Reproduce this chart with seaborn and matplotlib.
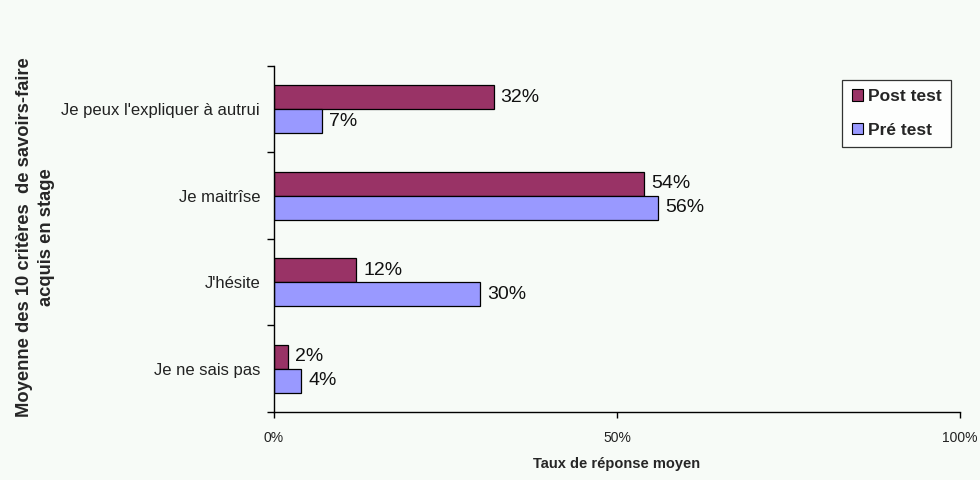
import matplotlib
matplotlib.use("Agg")
import matplotlib.pyplot as plt
import seaborn as sns
import pandas as pd
from matplotlib.ticker import FixedLocator, FuncFormatter

categories = ["Je peux l'expliquer à autrui", "Je maitrîse", "J'hésite", "Je ne sais pas"]
series = ["Post test", "Pré test"]
post_test = [32, 54, 12, 2]
pre_test = [7, 56, 30, 4]
x_ticks = [0, 50, 100]

colors = {"Post test": "#993366", "Pré test": "#9999FF"}
bg = "#f7fbf7"

df = pd.DataFrame({
    "critere": categories * 2,
    "serie": [series[0]] * len(categories) + [series[1]] * len(categories),
    "taux": post_test + pre_test,
})

sns.set_theme(style="white")
plt.rcParams["font.family"] = ["Liberation Sans", "DejaVu Sans"]

fig = plt.figure(figsize=(9.8, 4.8), dpi=100, facecolor=bg)
ax = fig.add_axes([0.2796, 0.1417, 0.70, 0.7208])
ax.set_facecolor(bg)

sns.barplot(data=df, x="taux", y="critere", hue="serie", order=categories,
            hue_order=series, palette=colors, orient="h", width=0.55, gap=0,
            edgecolor="black", linewidth=0.9, saturation=1, ax=ax, legend=True)

for cont in ax.containers:
    ax.bar_label(cont, labels=[f"{v:g}%" for v in cont.datavalues],
                 padding=5, fontsize=14, color="#111111")

ax.set_xlim(0, 100)
ax.set_ylim(3.5, -0.5)
ax.xaxis.set_major_locator(FixedLocator(x_ticks))
ax.xaxis.set_major_formatter(FuncFormatter(lambda v, p: f"{v:g}%"))
ax.tick_params(axis="x", direction="out", length=4, width=1, color="black",
               pad=10, labelsize=10, labelcolor="#222222", bottom=True)
ax.tick_params(axis="y", which="major", length=0, pad=10, labelsize=12,
               labelcolor="#222222")
ax.set_yticks([i + 0.5 for i in range(-1, len(categories))], minor=True)
ax.tick_params(axis="y", which="minor", direction="out", length=5, width=1,
               color="black", left=True)

for side in ["top", "right"]:
    ax.spines[side].set_visible(False)
for side in ["left", "bottom"]:
    ax.spines[side].set_color("black")
    ax.spines[side].set_linewidth(1)

ax.set_xlabel("Taux de réponse moyen", fontsize=10.5, fontweight="bold", labelpad=8)
ax.set_ylabel("")
fig.text(0.036, 0.505, "Moyenne des 10 critères  de savoirs-faire\nacquis en stage",
         rotation=90, ha="center", va="center", fontsize=13.2, fontweight="bold",
         linespacing=1.35)

handles, labels = ax.get_legend_handles_labels()
leg = ax.legend(handles, labels, loc="upper left", bbox_to_anchor=(0.828, 0.96),
                frameon=True, fancybox=False, edgecolor="black", facecolor="white",
                handlelength=0.65, handleheight=0.65, handletextpad=0.3,
                borderpad=0.55, borderaxespad=0, labelspacing=1.05,
                prop={"weight": "bold", "size": 12.5})
leg.get_frame().set_linewidth(0.9)
for h in leg.legend_handles:
    h.set_edgecolor("black")
    h.set_linewidth(0.8)

fig.savefig("out.png", dpi=100, facecolor=bg)
